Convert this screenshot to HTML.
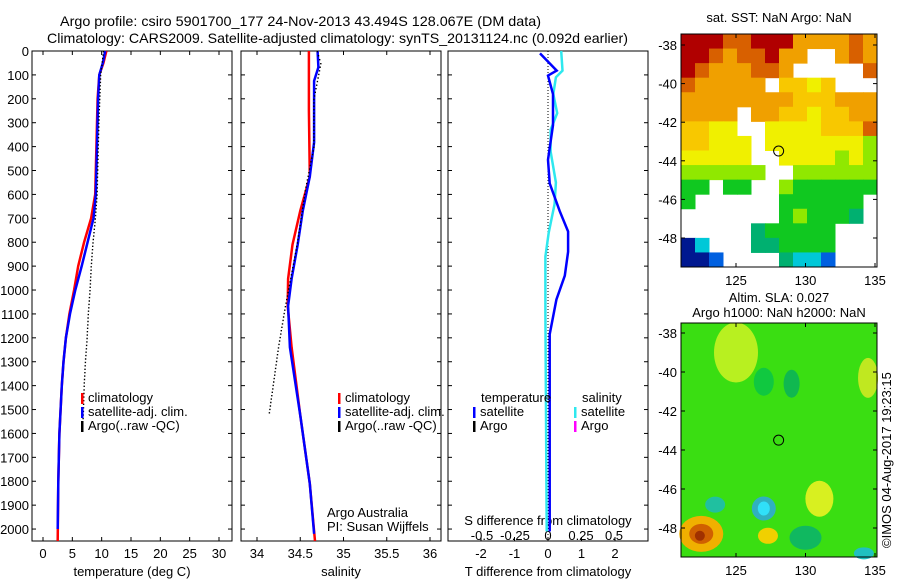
<!DOCTYPE html>
<html><head><meta charset="utf-8"><style>
body{margin:0;background:#fff;}
svg{display:block;font-family:"Liberation Sans",sans-serif;}
text{font-size:13px;fill:#000;}
</style></head><body>
<svg id="fig" width="900" height="580">
<text x="60" y="26" textLength="481" lengthAdjust="spacingAndGlyphs" style="font-size:14px">Argo profile: csiro 5901700_177 24-Nov-2013 43.494S 128.067E (DM data)</text>
<text x="47" y="43" textLength="581" lengthAdjust="spacingAndGlyphs" style="font-size:14px">Climatology: CARS2009. Satellite-adjusted climatology: synTS_20131124.nc (0.092d earlier)</text>
<g id="p1"></g>
<g id="p2"></g>
<g id="p3"></g>
<g id="m1"></g>
<g id="m2"></g>
<text x="891" y="548" transform="rotate(-90 891 548)">©IMOS 04-Aug-2017 19:23:15</text>
</svg>
<script>
const depthTicks=[0,100,200,300,400,500,600,700,800,900,1000,1100,1200,1300,1400,1500,1600,1700,1800,1900,2000];
const tempTicks=[0,5,10,15,20,25,30];
const salTicks=[34,34.5,35,35.5,36];
const tdTicks=[-2,-1,0,1,2];
const sdTicks=[-0.5,-0.25,0,0.25,0.5];
const tClimDepth=[0,50,100,200,400,600,700,800,900,1000,1100,1200,1300,1400,1500,1600,1800,2050];
const tClim=[10.8,10.3,9.6,9.3,9.1,8.9,8.2,7.0,6.0,5.3,4.5,3.9,3.5,3.2,3.0,2.8,2.6,2.5];
const tSatDepth=[0,50,100,200,400,600,700,800,900,1000,1100,1200,1300,1400,1500,1600,1800,2000];
const tSat=[10.6,10.2,9.6,9.4,9.2,9.0,8.6,7.6,6.6,5.5,4.6,3.9,3.5,3.2,3.0,2.8,2.6,2.5];
const tArgoDepth=[0,100,300,600,700,800,900,1000,1100,1200,1300,1400,1550];
const tArgo=[10.2,9.7,9.4,9.1,8.8,8.4,8.1,7.9,7.6,7.4,7.1,6.9,6.7];
const sClimDepth=[0,250,525,668,810,953,1067,1239,1525,1810,2050];
const sClim=[34.6,34.6,34.61,34.5,34.41,34.36,34.355,34.4,34.5,34.61,34.67];
const sSatDepth=[0,68,125,240,382,525,668,810,953,1067,1239,1525,1810,2020];
const sSat=[34.7,34.71,34.66,34.66,34.66,34.61,34.53,34.47,34.4,34.36,34.38,34.5,34.61,34.66];
const sArgoDepth=[0,50,200,400,582,800,1067,1239,1525];
const sArgo=[34.69,34.73,34.65,34.65,34.55,34.46,34.32,34.24,34.13];
const dTDepth=[10,82,103,180,310,455,554,670,755,840,940,1040,1185,1380,2010];
const dT=[-0.24,0.26,0,0.15,0.15,0,0.05,0.35,0.6,0.6,0.5,0.25,0.05,0.05,0.05];
const dSDepth=[0,82,110,180,260,330,420,550,640,760,860,1100,2010];
const dS=[0.10,0.11,0.06,0.04,0.07,0.02,0.02,0.06,0.05,0.005,-0.02,-0.02,-0.01];
const sstRows=[
"RRROORRRooooOo","RROoOORoo..oOo","ROoooOOo.....O","Oooooo.YYyY...",
"ooooooooYYYooo","oooo.ooYYyYYoo","YYyy..yyyyYYYO","YYyyy.yyyyyyyL",
"yyyyy..yyyyLyL","LLLLLL..LLLLLL","GG.GG..LGGGGGG","G......GGGGGG.",
".......GLGGGg.",".....gGGGGG...","NC...ggGGGG...","NNB....gCCB..."];
const NS="http://www.w3.org/2000/svg";
function mk(parent,tag,attrs){const e=document.createElementNS(NS,tag);for(const k in attrs)e.setAttribute(k,attrs[k]);parent.appendChild(e);return e;}
function txt(parent,x,y,s,anchor){const t=mk(parent,'text',{x:x,y:y,'text-anchor':anchor||'middle'});t.textContent=s;return t;}
const Y0=51,Y1=541,DMAX=2050;
const yD=d=>Y0+(d/DMAX)*(Y1-Y0);
function frame(g,x0,x1,name){const r=mk(g,'rect',{x:x0,y:Y0,width:x1-x0,height:Y1-Y0,fill:'none',stroke:'#000'});

}
function depthAxis(g,x0,x1,labels){depthTicks.forEach(d=>{const y=yD(d);mk(g,'line',{x1:x0,y1:y,x2:x0+4,y2:y,stroke:'#000'});mk(g,'line',{x1:x1,y1:y,x2:x1-4,y2:y,stroke:'#000'});
if(labels){const t=txt(g,x0-3,y+5,String(d),'end');
}});}
function xTicks(g,ticks,fx,labelY,top){ticks.forEach(v=>{const x=fx(v);mk(g,'line',{x1:x,y1:Y1,x2:x,y2:Y1-4,stroke:'#000'});if(top)mk(g,'line',{x1:x,y1:Y0,x2:x,y2:Y0+4,stroke:'#000'});
const t=txt(g,x,labelY,String(v));
});}
function line(g,xs,ds,fx,color,w,name){const p=xs.map((v,i)=>fx(v).toFixed(1)+','+yD(ds[i]).toFixed(1)).join(' ');const e=mk(g,'polyline',{points:p,fill:'none',stroke:color,'stroke-width':w});

}
function dots(g,xs,ds,fx,name){let d='';for(let i=0;i<xs.length-1;i++){const n=Math.max(2,Math.round((yD(ds[i+1])-yD(ds[i]))/3.5));for(let k=0;k<n;k++){const f=k/n;const x=fx(xs[i]+(xs[i+1]-xs[i])*f),y=yD(ds[i]+(ds[i+1]-ds[i])*f);d+=`M${x.toFixed(1)} ${y.toFixed(1)}h1.4v1.4h-1.4z`;}}
const e=mk(g,'path',{d:d,fill:'#000'});
}
function legend(g,x,y,items){items.forEach((it,i)=>{mk(g,'rect',{x:x,y:y+i*14-9,width:2.5,height:11,fill:it[1]});const t=txt(g,x+7,y+i*14,it[0],'start');
});}
// panel 1
const p1=document.getElementById('p1');const fT=v=>43+v*(176/30);
frame(p1,32,232,'temperature-axes');depthAxis(p1,32,232,true);xTicks(p1,tempTicks,fT,558,true);
txt(p1,132,576,'temperature (deg C)');
line(p1,tClim,tClimDepth,fT,'#f00',2.5,'temp-climatology-line');
line(p1,tSat,tSatDepth,fT,'#00f',2.5,'temp-satellite-line');
dots(p1,tArgo,tArgoDepth,fT,'temp-argo-dots');
legend(p1,81,402,[['climatology','#f00'],['satellite-adj. clim.','#00f'],['Argo(..raw -QC)','#000']]);
// panel 2
const p2=document.getElementById('p2');const fS=v=>257+(v-34)*86.5;
frame(p2,241,441,'salinity-axes');depthAxis(p2,241,441,false);xTicks(p2,salTicks,fS,558,true);
txt(p2,341,576,'salinity');
line(p2,sClim,sClimDepth,fS,'#f00',2.5,'sal-climatology-line');
line(p2,sSat,sSatDepth,fS,'#00f',2.5,'sal-satellite-line');
dots(p2,sArgo,sArgoDepth,fS,'sal-argo-dots');
legend(p2,338,402,[['climatology','#f00'],['satellite-adj. clim.','#00f'],['Argo(..raw -QC)','#000']]);
txt(p2,327,517,'Argo Australia','start');txt(p2,327,531,'PI: Susan Wijffels','start');
// panel 3
const p3=document.getElementById('p3');const fTd=v=>548+v*33.5;const fSd=v=>548+v*132;
frame(p3,448,648,'difference-axes');depthAxis(p3,448,648,false);xTicks(p3,tdTicks,fTd,558,false);
sdTicks.forEach(v=>{const t=txt(p3,fSd(v),540,String(v));
});
txt(p3,548,525,'S difference from climatology');txt(p3,548,576,'T difference from climatology');
mk(p3,'line',{x1:548,y1:Y0,x2:548,y2:Y1,stroke:'#000','stroke-dasharray':'1,2'});
line(p3,dS,dSDepth,fSd,'#2ee8ee',2.5,'sal-diff-line');
line(p3,dT,dTDepth,fTd,'#00f',2.5,'temp-diff-line');
txt(p3,481,402,'temperature','start');txt(p3,582,402,'salinity','start');
legend(p3,473,416,[['satellite','#00f'],['Argo','#000']]);
legend(p3,574,416,[['satellite','#2ee8ee'],['Argo','#f0f']]);
// maps
const col={R:'#b00000',O:'#d86000',o:'#f0a000',Y:'#f8c800',y:'#f0f000',L:'#90e800',G:'#10c820',g:'#00b070',C:'#00c8d8',B:'#0060e0',N:'#001890'};
const MX0=681,MX1=877,fLon=v=>736+(v-125)*13.9;
function mapAxes(g,y0,y1,fLat,name){const r=mk(g,'rect',{x:MX0,y:y0,width:MX1-MX0,height:y1-y0,fill:'none',stroke:'#000'});


[125,130,135].forEach(v=>{const x=fLon(v);mk(g,'line',{x1:x,y1:y1,x2:x,y2:y1-4,stroke:'#000'});mk(g,'line',{x1:x,y1:y0,x2:x,y2:y0+4,stroke:'#000'});txt(g,x,y1+18,String(v));});
[-38,-40,-42,-44,-46,-48].forEach(v=>{const y=fLat(v);mk(g,'line',{x1:MX0,y1:y,x2:MX0+4,y2:y,stroke:'#000'});mk(g,'line',{x1:MX1,y1:y,x2:MX1-4,y2:y,stroke:'#000'});txt(g,MX0-4,y+5,String(v),'end');});}
const m1=document.getElementById('m1');
const cw=(MX1-MX0)/14,ch=(267-34)/16;
sstRows.forEach((row,r)=>{for(let c=0;c<14;c++){const k=row[c];if(k&&col[k]){mk(m1,'rect',{x:MX0+c*cw,y:34+r*ch,width:cw+0.5,height:ch+0.5,fill:col[k]});}}});
const fLat1=v=>45+(-38-v)*19.3;
mapAxes(m1,34,267,fLat1,'sst-map-frame');
mk(m1,'circle',{cx:fLon(128.067),cy:fLat1(-43.494),r:5,fill:'none',stroke:'#000'});
txt(m1,779,22,'sat. SST: NaN Argo: NaN');
const m2=document.getElementById('m2');
const fLat2=v=>333+(-38-v)*19.5;
mk(m2,'rect',{x:MX0,y:323,width:MX1-MX0,height:234,fill:'#3ade12'});
const blobs=[[125,-39,22,30,'#b8f020'],[127,-40.5,10,14,'#10c840'],[129,-40.6,8,14,'#10b850'],[134.5,-40.3,10,20,'#c0e820'],[123.5,-46.8,10,8,'#20c0a0'],[127,-47,12,12,'#30b0c0'],[127,-47,6,7,'#30e0f8'],[131,-46.5,14,18,'#d8f020'],[130,-48.5,16,12,'#10b860'],[134.2,-49.3,10,6,'#20c0c0'],[127.3,-48.4,10,8,'#f0d000'],[122.5,-48.3,22,18,'#f0b000'],[122.5,-48.3,12,10,'#d06000'],[122.4,-48.4,5,5,'#a03000']];
blobs.forEach(b=>{mk(m2,'ellipse',{cx:fLon(b[0]),cy:fLat2(b[1]),rx:b[2],ry:b[3],fill:b[4]});});
mapAxes(m2,323,557,fLat2,'sla-map-frame');
mk(m2,'circle',{cx:fLon(128.067),cy:fLat2(-43.494),r:5,fill:'none',stroke:'#000'});
txt(m2,779,302,'Altim. SLA: 0.027');txt(m2,779,317,'Argo h1000: NaN h2000: NaN');
</script>
</body></html>
